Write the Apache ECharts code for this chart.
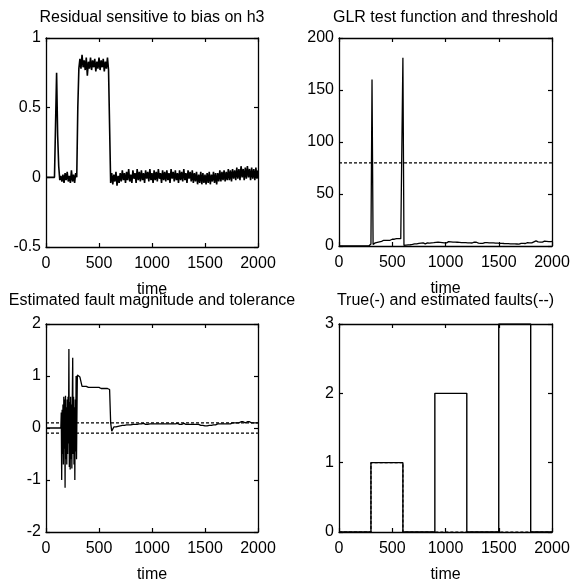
<!DOCTYPE html>
<html><head><meta charset="utf-8">
<script src="https://cdn.jsdelivr.net/npm/echarts@6/dist/echarts.min.js"></script>
<style>html,body{margin:0;padding:0;background:#fff}#c{width:579px;height:585px}</style>
</head><body><div id="c"></div>
<script>
// ---------- data ----------
const titles = ['Residual sensitive to bias on h3','GLR test function and threshold','Estimated fault magnitude and tolerance','True(-) and estimated faults(--)'];
const xLabel = 'time';
const xTicks = [0, 2000, 500];
const yTicks = [[-0.5, 1, 0.5], [0, 200, 50], [-2, 2, 1], [0, 3, 1]];

const sampleStep = 10; // time step of the sampled signals

// residual, t = 0..2000 step 10
const residual = [
 0,0,0,0,0,0,0,0,0,0,
 0.75,0.3,0.08,-0.02,0.01,-0.03,0.02,-0.04,0.03,-0.02,
 0.04,-0.03,0.01,-0.04,0.05,-0.03,0.02,-0.04,0.03,0.0,
 0.5,0.78,0.85,0.78,0.88,0.79,0.84,0.77,0.86,0.73,
 0.83,0.78,0.86,0.77,0.84,0.79,0.85,0.76,0.83,0.78,
 0.86,0.77,0.84,0.79,0.85,0.76,0.83,0.78,0.86,0.77,
 0.78,-0.04,0.03,-0.05,0.02,-0.03,0.04,-0.06,0.01,-0.04,
 0.03,-0.03,0.05,-0.02,0.03,-0.04,0.04,-0.02,0.06,-0.03,
 0.02,-0.04,0.05,-0.01,0.03,-0.04,0.06,-0.02,0.04,-0.03,
 0.05,-0.02,0.03,-0.04,0.05,-0.01,0.04,-0.03,0.06,-0.02,
 0.03,-0.04,0.05,-0.02,0.04,-0.03,0.06,-0.01,0.03,-0.04,
 0.05,-0.02,0.04,-0.03,0.05,-0.02,0.03,-0.04,0.06,-0.01,
 0.04,-0.03,0.05,-0.02,0.03,-0.04,0.05,-0.02,0.04,-0.03,
 0.06,-0.02,0.03,-0.04,0.05,-0.01,0.04,-0.03,0.05,-0.04,
 0.03,-0.03,0.04,-0.05,0.02,-0.04,0.04,-0.05,0.03,-0.04,
 0.02,-0.05,0.03,-0.04,0.04,-0.05,0.02,-0.03,0.04,-0.04,
 0.03,-0.05,0.03,-0.03,0.05,-0.03,0.04,-0.02,0.05,-0.03,
 0.04,-0.02,0.06,-0.02,0.05,-0.03,0.06,-0.01,0.05,-0.02,
 0.07,-0.01,0.06,-0.02,0.08,0.0,0.06,-0.02,0.07,-0.01,
 0.08,0.0,0.06,-0.02,0.07,-0.01,0.06,-0.02,0.07,-0.01,
 0.05
];

// GLR test function, t = 0..2000 step 10
const glr = [
 0,0,0,0,0,0,0,0,0,0,
 0,0,0,0,0,0,0,0,0,0,
 0,0,0,0,0,0,0,0,0,0.5,
 2,160,1.5,2.5,3,4,3.5,4.5,4,5,
 4.5,5,5.5,5,5.5,6,5.5,6,5.5,6,
 6.5,6,6.5,6,7,6.5,7,7.5,7,8,
 181,0.5,0.5,0.8,0.6,1,0.8,1.2,1,1.5,
 1.3,2,2.5,2,3,2.5,2,2.8,2.2,3,
 2.6,2,2.5,3,2.4,2.8,3.5,3,3.8,3.2,
 4,3.5,4.2,3.6,3,3.5,2.8,3.3,2.6,3,
 3.6,3,3.8,4.2,3.5,4,3.4,3.8,4.4,3.8,
 3.2,3.6,3,3.4,2.8,3.2,3.6,3.2,2.8,3.2,
 2.7,3.1,3.5,3,3.4,2.9,3.3,3.8,3.2,3.6,
 3.1,2.7,3,2.6,3,2.5,2.9,3.3,2.8,3.2,
 3.6,3.1,3.5,3,2.6,3,2.5,2.8,2.3,2.7,
 3.2,2.6,2.2,2.6,2,2.4,1.9,2.3,1.8,2.2,
 2.6,2.1,1.7,2.1,1.6,2,2.4,1.9,2.3,1.8,
 2.2,2.6,2.1,2.5,2.9,2.4,2.8,3.2,2.7,3.1,
 3.6,3,3.5,4,4.6,5,4.5,4,4.4,3.8,
 4.2,3.7,4.1,4.6,5,4.5,4.8,4.3,4.7,4.2,
 4.5
];
const glrThreshold = 80;

// estimated fault magnitude: three segments
const estPreStart = 0, estPreStep = 10;
const estPre = [0,0,0,0,0,0,0,0,0,0,0,0,0,0,0];           // t = 0..140
const estBurstStart = 144, estBurstStep = 4;               // t = 144..296
const estBurst = [0.3,-1.0,0.35,-0.5,0.45,-0.7,0.6,-0.4,0.55,-1.15,
 0.62,-0.6,0.4,-0.7,0.55,-0.5,0.6,-0.3,1.52,-0.75,
 0.5,-0.8,0.6,-0.6,0.45,-0.78,0.55,1.35,-0.5,0.6,
 -0.7,0.4,-1.0,0.55,-0.45,1.0,-0.6,0.3,1.02];
const estPostStart = 300, estPostStep = 10;                // t = 300..2000
const estPost = [
 1.02,1.01,0.98,0.98,0.8,0.81,0.8,0.79,0.8,0.79,
 0.78,0.79,0.78,0.79,0.78,0.77,0.78,0.77,0.78,0.77,
 0.78,0.77,0.76,0.77,0.76,0.77,0.76,0.77,0.76,0.76,
 0.74,0.1,-0.06,-0.08,0.02,0.03,0.02,0.04,0.03,0.05,
 0.04,0.06,0.05,0.06,0.05,0.07,0.06,0.07,0.06,0.07,
 0.06,0.08,0.07,0.08,0.07,0.08,0.07,0.09,0.08,0.07,
 0.08,0.07,0.09,0.08,0.07,0.08,0.07,0.09,0.08,0.07,
 0.08,0.09,0.08,0.07,0.08,0.09,0.08,0.07,0.08,0.07,
 0.08,0.09,0.08,0.07,0.08,0.07,0.08,0.09,0.08,0.07,
 0.08,0.07,0.08,0.07,0.09,0.08,0.07,0.08,0.07,0.08,
 0.09,0.08,0.07,0.08,0.07,0.08,0.07,0.08,0.07,0.06,
 0.07,0.08,0.07,0.06,0.07,0.06,0.05,0.06,0.05,0.06,
 0.04,0.05,0.04,0.06,0.05,0.06,0.05,0.07,0.06,0.07,
 0.06,0.07,0.08,0.07,0.08,0.07,0.08,0.07,0.08,0.09,
 0.08,0.09,0.08,0.09,0.08,0.09,0.1,0.09,0.1,0.09,
 0.1,0.11,0.1,0.11,0.12,0.11,0.12,0.11,0.1,0.11,
 0.12,0.11,0.12,0.11,0.1,0.11,0.1,0.11,0.1,0.09,
 0.1
];
const tolerance = [0.1, -0.1];

// true and estimated faults (step outlines)
const trueFaultTimes = [0,300,300,600,600,900,900,1200,1200,1500,1500,1800,1800,2000];
const trueFault      = [0,0,1,1,0,0,2,2,0,0,3,3,0,0];
const estFaultTimes  = [0,300,300,600,600,2000];
const estFault       = [0,0,1,1,0,0];

// ---------- build ----------
const pairs = (start, step, vals) => vals.map((v, i) => [start + i * step, v]);
const zip = (ts, vs) => ts.map((t, i) => [t, vs[i]]);
const FONT = 'Liberation Sans, Arial, Helvetica, sans-serif';
const fmt = v => String(v);

const grids = [
  {left: 46, top: 38, width: 212, height: 209},
  {left: 339, top: 38, width: 213, height: 208},
  {left: 46, top: 324, width: 212, height: 208},
  {left: 339, top: 324, width: 213, height: 208}
];
const titleTops = [10, 10, 293, 293];

const xAxes = [], yAxes = [], titleArr = [];
grids.forEach((g, i) => {
  const base = {
    type: 'value', gridIndex: i, splitLine: {show: false},
    axisLine: {show: true, onZero: false, lineStyle: {color: '#000', width: 1.3}},
    axisTick: {show: true, inside: true, length: 4, lineStyle: {color: '#000', width: 1.2}}
  };
  xAxes.push(Object.assign({}, base, {
    position: 'bottom', min: xTicks[0], max: xTicks[1], interval: xTicks[2],
    name: xLabel, nameLocation: 'middle', nameGap: 35,
    nameTextStyle: {color: '#000', fontSize: 16, fontFamily: FONT},
    axisLabel: {color: '#000', fontSize: 16, fontFamily: FONT, margin: 9, formatter: fmt}
  }));
  xAxes.push(Object.assign({}, base, {
    position: 'top', min: xTicks[0], max: xTicks[1], interval: xTicks[2],
    axisLabel: {show: false}
  }));
  const yt = yTicks[i];
  yAxes.push(Object.assign({}, base, {
    position: 'left', min: yt[0], max: yt[1], interval: yt[2],
    axisLabel: {color: '#000', fontSize: 16, fontFamily: FONT, margin: 5, formatter: fmt}
  }));
  yAxes.push(Object.assign({}, base, {
    position: 'right', min: yt[0], max: yt[1], interval: yt[2],
    axisLabel: {show: false}
  }));
  titleArr.push({
    text: titles[i], left: g.left + g.width / 2, top: titleTops[i], textAlign: 'center', padding: 0,
    textStyle: {color: '#000', fontSize: 16, fontWeight: 'normal', fontFamily: FONT}
  });
});

const line = (gi, data, dashed, w) => ({
  type: 'line', xAxisIndex: gi * 2, yAxisIndex: gi * 2, data: data,
  showSymbol: false, symbol: 'none', animation: false, silent: true,
  lineStyle: {color: '#000', width: w || 1.2, type: dashed ? [3, 2] : 'solid'},
  clip: true
});

const series = [
  line(0, pairs(0, sampleStep, residual), false, 1.6),
  line(1, pairs(0, sampleStep, glr), false, 1.3),
  line(1, [[xTicks[0], glrThreshold], [xTicks[1], glrThreshold]], true),
  line(2, pairs(estPreStart, estPreStep, estPre)
          .concat(pairs(estBurstStart, estBurstStep, estBurst))
          .concat(pairs(estPostStart, estPostStep, estPost)), false, 1.3),
  line(2, [[xTicks[0], tolerance[0]], [xTicks[1], tolerance[0]]], true),
  line(2, [[xTicks[0], tolerance[1]], [xTicks[1], tolerance[1]]], true),
  line(3, zip(trueFaultTimes, trueFault), false, 1.4),
  line(3, zip(estFaultTimes, estFault), true, 1.2)
];

const chart = echarts.init(document.getElementById('c'), null, {renderer: 'canvas'});
chart.setOption({
  backgroundColor: '#fff', animation: false,
  title: titleArr, grid: grids, xAxis: xAxes, yAxis: yAxes, series: series
});
</script></body></html>
